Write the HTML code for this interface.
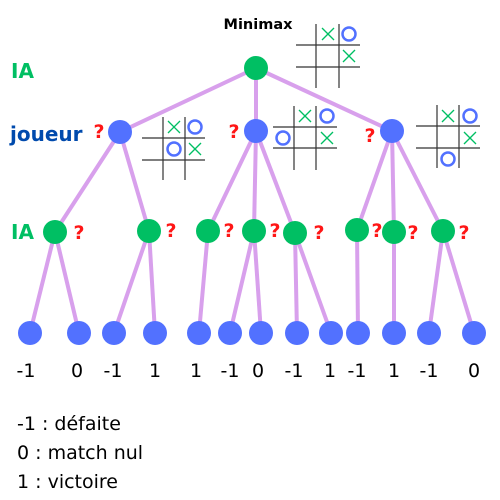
<!DOCTYPE html>
<html><head><meta charset="utf-8"><style>body{margin:0;background:#fff}svg{display:block}</style></head><body>
<svg width="500" height="500" viewBox="0 0 500 500" xmlns="http://www.w3.org/2000/svg" font-family="'DejaVu Sans', 'Liberation Sans', sans-serif">
<g stroke="#d8a0ec" stroke-width="4" fill="none">
<line x1="256" y1="68" x2="120" y2="132"/><line x1="256" y1="68" x2="256" y2="131"/><line x1="256" y1="68" x2="392" y2="131"/>
<line x1="120" y1="132" x2="55" y2="232"/><line x1="120" y1="132" x2="149" y2="231"/>
<line x1="256" y1="131" x2="208" y2="231"/><line x1="256" y1="131" x2="254" y2="231"/><line x1="256" y1="131" x2="295" y2="233"/>
<line x1="392" y1="131" x2="357" y2="230"/><line x1="392" y1="131" x2="394" y2="232"/><line x1="392" y1="131" x2="443" y2="231"/>
<line x1="55" y1="232" x2="30" y2="333"/><line x1="55" y1="232" x2="79" y2="333"/>
<line x1="149" y1="231" x2="114" y2="333"/><line x1="149" y1="231" x2="155" y2="333"/>
<line x1="208" y1="231" x2="199" y2="333"/>
<line x1="254" y1="231" x2="230" y2="333"/><line x1="254" y1="231" x2="261" y2="333"/>
<line x1="295" y1="233" x2="297" y2="333"/><line x1="295" y1="233" x2="331" y2="333"/>
<line x1="357" y1="230" x2="358" y2="333"/>
<line x1="394" y1="232" x2="394" y2="333"/>
<line x1="443" y1="231" x2="429" y2="333"/><line x1="443" y1="231" x2="474" y2="333"/>
</g>
<g fill="#00bf63">
<circle cx="256" cy="68" r="12"/>
<circle cx="55" cy="232" r="12"/><circle cx="149" cy="231" r="12"/><circle cx="208" cy="231" r="12"/><circle cx="254" cy="231" r="12"/><circle cx="295" cy="233" r="12"/><circle cx="357" cy="230" r="12"/><circle cx="394" cy="232" r="12"/><circle cx="443" cy="231" r="12"/>
</g>
<g fill="#5271ff">
<circle cx="120" cy="132" r="12"/><circle cx="256" cy="131" r="12"/><circle cx="392" cy="131" r="12"/>
<circle cx="30" cy="333" r="12"/><circle cx="79" cy="333" r="12"/><circle cx="114" cy="333" r="12"/><circle cx="155" cy="333" r="12"/><circle cx="199" cy="333" r="12"/><circle cx="230" cy="333" r="12"/><circle cx="261" cy="333" r="12"/><circle cx="297" cy="333" r="12"/><circle cx="331" cy="333" r="12"/><circle cx="358" cy="333" r="12"/><circle cx="394" cy="333" r="12"/><circle cx="429" cy="333" r="12"/><circle cx="474" cy="333" r="12"/>
</g>
<text x="258" y="29" font-size="14.5" font-weight="bold" text-anchor="middle" fill="#000">Minimax</text>
<g font-size="20" font-weight="bold">
<text x="11" y="78" fill="#00bf63">IA</text>
<text x="10" y="141" fill="#004aad">joueur</text>
<text x="11" y="239" fill="#00bf63">IA</text>
</g>
<g font-size="19" font-weight="bold" fill="#ff1616" text-anchor="middle">
<text x="99" y="138">?</text><text x="234" y="138">?</text><text x="370" y="142">?</text>
<text x="79" y="239">?</text><text x="171" y="237">?</text><text x="229" y="237">?</text><text x="275" y="237">?</text><text x="319" y="239">?</text><text x="377" y="237">?</text><text x="413" y="239">?</text><text x="464" y="239">?</text>
</g>
<defs>
<g id="X"><line x1="-6" y1="-6" x2="6" y2="6" stroke="#00bf63" stroke-width="1.3"/><line x1="6" y1="-6" x2="-6" y2="6" stroke="#00bf63" stroke-width="1.3"/></g>
<g id="O"><circle r="6.5" fill="none" stroke="#5271ff" stroke-width="2.5"/></g>
</defs>
<g stroke="#333" stroke-width="1.2">
<line x1="316" y1="24" x2="316" y2="88"/><line x1="339" y1="24" x2="339" y2="88"/><line x1="296" y1="45" x2="360" y2="45"/><line x1="296" y1="67" x2="360" y2="67"/>
<line x1="163" y1="117" x2="163" y2="180"/><line x1="185" y1="117" x2="185" y2="180"/><line x1="142" y1="138" x2="205" y2="138"/><line x1="142" y1="160" x2="205" y2="160"/>
<line x1="294" y1="106" x2="294" y2="170"/><line x1="316" y1="106" x2="316" y2="170"/><line x1="273" y1="127" x2="337" y2="127"/><line x1="273" y1="148" x2="337" y2="148"/>
<line x1="437" y1="105" x2="437" y2="168"/><line x1="459" y1="105" x2="459" y2="168"/><line x1="416" y1="126" x2="480" y2="126"/><line x1="416" y1="148" x2="480" y2="148"/>
</g>
<use href="#X" x="328" y="34"/><use href="#O" x="349" y="34"/><use href="#X" x="349" y="56"/>
<use href="#X" x="174" y="127"/><use href="#O" x="195" y="127"/><use href="#O" x="174" y="149"/><use href="#X" x="195" y="149"/>
<use href="#X" x="305" y="116"/><use href="#O" x="327" y="116"/><use href="#O" x="283" y="138"/><use href="#X" x="327" y="138"/>
<use href="#X" x="448" y="116"/><use href="#O" x="470" y="116"/><use href="#X" x="470" y="138"/><use href="#O" x="448" y="159"/>
<g font-size="19" fill="#000" text-anchor="middle">
<text x="26" y="377">-1</text><text x="77" y="377">0</text><text x="113" y="377">-1</text><text x="155" y="377">1</text><text x="196" y="377">1</text><text x="230" y="377">-1</text><text x="258" y="377">0</text><text x="294" y="377">-1</text><text x="330" y="377">1</text><text x="357" y="377">-1</text><text x="394" y="377">1</text><text x="429" y="377">-1</text><text x="474" y="377">0</text>
</g>
<g font-size="19" fill="#000">
<text x="17" y="430">-1 : défaite</text>
<text x="17" y="459">0 : match nul</text>
<text x="17" y="488">1 : victoire</text>
</g>
</svg>
</body></html>
